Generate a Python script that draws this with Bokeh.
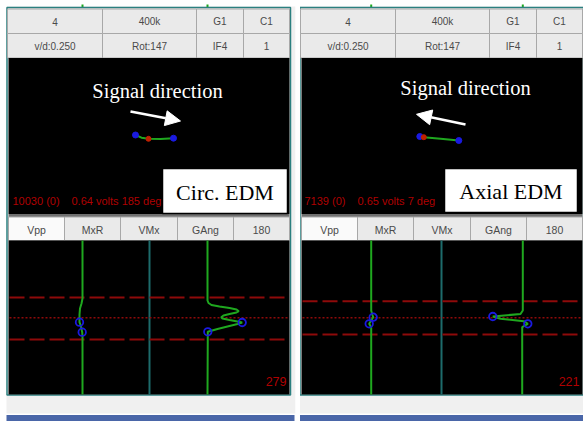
from bokeh.plotting import figure
from bokeh.models import Range1d, Arrow, NormalHead
from bokeh.embed import file_html
from bokeh.resources import INLINE
from bokeh.core.properties import value

# ---------------- data ----------------
SETTINGS_ROW1 = ["4", "400k", "G1", "C1"]
SETTINGS_ROW2 = ["v/d:0.250", "Rot:147", "IF4", "1"]
STRIP_TABS = ["Vpp", "MxR", "VMx", "GAng", "180"]
ANNOTATION = "Signal direction"
PANEL_LABELS = ["Circ. EDM", "Axial EDM"]
COUNTS = ["10030 (0)", "7139 (0)"]
READOUTS = ["0.64 volts 185 deg", "0.65 volts 7 deg"]
SAMPLE_NO = ["279", "221"]

# Lissajous (impedance plane) traces, screen units
CIRC_LISS_X = [135, 141, 148, 160, 173]
CIRC_LISS_Y = [134.5, 137.2, 138.3, 138.6, 137.7]
AXIAL_LISS_X = [419.3, 423.3, 440, 458.3]
AXIAL_LISS_Y = [136, 136.7, 138.2, 140]

# strip chart traces: sample position and deflection from channel baseline
CIRC_MXR_Y = [240, 298, 303, 308, 314, 321.7, 326, 331.7, 336, 394]
CIRC_MXR_DX = [0, 0, -1, -2.5, -3, -3, -1.5, -0.3, 0, 0]
CIRC_GANG_Y = [240, 300, 302.5, 304.5, 306, 307.5, 309, 310.7, 312, 313.5, 315, 316.7, 318, 319.5,
               321, 322, 323.5, 326, 328.5, 331.3, 394]
CIRC_GANG_DX = [0, 0, 1, 4, 12, 22, 29, 31.3, 29, 22, 16, 13.7, 15, 22, 30, 34.7, 30, 20, 10, 0.3, 0]
CIRC_MXR_MARK_Y, CIRC_MXR_MARK_DX = [321.7, 331.7], [-3, -0.3]
CIRC_GANG_MARK_Y, CIRC_GANG_MARK_DX = [322, 331.3], [34.7, 0.3]

AXIAL_MXR_Y = [240, 310, 314, 316.7, 320, 323.3, 327, 394]
AXIAL_MXR_DX = [0, 0, 1, 2, 0, -2, 0, 0]
AXIAL_GANG_Y = [240, 310, 313.5, 316, 318.3, 320.7, 323.3, 326.7, 394]
AXIAL_GANG_DX = [0, 0, -2.3, -30, -22.3, 1, 5, -0.6, -0.6]
AXIAL_MXR_MARK_Y, AXIAL_MXR_MARK_DX = [316.7, 323.3], [2, -2]
AXIAL_GANG_MARK_Y, AXIAL_GANG_MARK_DX = [316, 323.3], [-30, 5]

# ---------------- layout / style ----------------
TEAL = "#2b8080"
GREEN = "#1fa81f"
RED = "#b00000"
DASHRED = "#8e0a0a"
BLUE = "#1a1ae0"
CELL = "#eaeaea"
CELL_LINE = "#a8a8a8"
HDR_TXT = "#4a4a4a"
SANS = value("Liberation Sans")
SERIF = value("Liberation Serif")

p = figure(width=583, height=421, x_range=Range1d(0, 583), y_range=Range1d(421, 0),
           output_backend="svg", toolbar_location=None, min_border=0,
           x_axis_location=None, y_axis_location=None)
p.grid.visible = False
p.outline_line_color = None
p.background_fill_color = "white"
p.border_fill_color = "white"

PANEL_DX = [0, 293]
TOP_COLS = [7, 102, 196, 243, 289]
LOW_COLS = [8, 64, 120, 177, 233, 289]

panels = [
    dict(liss_x=CIRC_LISS_X, liss_y=CIRC_LISS_Y, red_idx=2, sig_x=157, sig_y=90,
         arrow=(130, 111, 180, 120.5), box=(162, 287, 168, 213), lab_x=224.5,
         dash_y=[297, 339], base=[82, 207], teal=149,
         traces=[(CIRC_MXR_Y, CIRC_MXR_DX, CIRC_MXR_MARK_Y, CIRC_MXR_MARK_DX),
                 (CIRC_GANG_Y, CIRC_GANG_DX, CIRC_GANG_MARK_Y, CIRC_GANG_MARK_DX)],
         cnt_x=12, rd_x=71),
    dict(liss_x=AXIAL_LISS_X, liss_y=AXIAL_LISS_Y, red_idx=1, sig_x=465, sig_y=87,
         arrow=(465, 124, 416, 113.8), box=(444, 577, 168, 212), lab_x=510.5,
         dash_y=[300.7, 334], base=[370.7, 522.3], teal=441,
         traces=[(AXIAL_MXR_Y, AXIAL_MXR_DX, AXIAL_MXR_MARK_Y, AXIAL_MXR_MARK_DX),
                 (AXIAL_GANG_Y, AXIAL_GANG_DX, AXIAL_GANG_MARK_Y, AXIAL_GANG_MARK_DX)],
         cnt_x=304, rd_x=357),
]

for k, (dx, pn) in enumerate(zip(PANEL_DX, panels)):
    # panel background and frame
    p.quad(left=[6 + dx], right=[295 + dx + (10 if k else 0)], top=[6], bottom=[413],
           fill_color="#f0f0f0", line_color=None)
    p.quad(left=[6 + dx], right=[294 + dx + (10 if k else 0)], top=[414.5], bottom=[421],
           fill_color="#4a66a8", line_color=None)
    # remnants of traces from the screen above
    p.segment(x0=[pn["base"][0], pn["base"][1]], y0=[4, 4], x1=[pn["base"][0], pn["base"][1]], y1=[7, 7],
              line_color=GREEN, line_width=2)
    p.quad(left=[6.5 + dx], right=[290 + dx], top=[7], bottom=[394.5],
           fill_color=None, line_color=TEAL, line_width=1.5)
    # settings table
    for r, (row, (y0, y1)) in enumerate(zip([SETTINGS_ROW1, SETTINGS_ROW2], [(8.5, 33), (33, 57.5)])):
        lefts = [c + dx for c in TOP_COLS[:-1]]
        rights = [c + dx for c in TOP_COLS[1:]]
        p.quad(left=lefts, right=rights, top=[y0] * 4, bottom=[y1] * 4,
               fill_color=CELL, line_color=CELL_LINE, line_width=1)
        p.text(x=[(a + b) / 2 for a, b in zip(lefts, rights)], y=[(y0 + y1) / 2 + 0.5] * 4, text=row,
               text_font=SANS, text_font_size="10px", text_color=HDR_TXT,
               text_align="center", text_baseline="middle")
    # impedance plane area
    p.quad(left=[8 + dx], right=[289 + dx], top=[57.5], bottom=[213.5], fill_color="black", line_color=None)
    p.quad(left=[8 + dx], right=[289 + dx], top=[213.5], bottom=[216.5], fill_color="#707070", line_color=None)
    p.text(x=[pn["sig_x"]], y=[pn["sig_y"]], text=[ANNOTATION], text_font=SERIF,
           text_font_size="20.5px", text_color="white", text_align="center", text_baseline="alphabetic")
    ax0, ay0, ax1, ay1 = pn["arrow"]
    p.add_layout(Arrow(x_start=ax0, y_start=ay0, x_end=ax1, y_end=ay1, line_color="white", line_width=2.5,
                       end=NormalHead(size=15, fill_color="white", line_color="white", line_width=1)))
    p.line(pn["liss_x"], pn["liss_y"], line_color=GREEN, line_width=2)
    p.scatter([pn["liss_x"][0], pn["liss_x"][-1]], [pn["liss_y"][0], pn["liss_y"][-1]],
              size=6, fill_color=BLUE, line_color=BLUE)
    p.scatter([pn["liss_x"][pn["red_idx"]]], [pn["liss_y"][pn["red_idx"]]], size=5,
              fill_color="#c02000", line_color="#c02000")
    bl, br, bt, bb = pn["box"]
    p.quad(left=[bl], right=[br], top=[bt], bottom=[bb], fill_color="white", line_color="black", line_width=1.5)
    p.text(x=[pn["lab_x"]], y=[(bt + bb) / 2 + 1], text=[PANEL_LABELS[k]], text_font=SERIF,
           text_font_size="22px", text_color="black", text_align="center", text_baseline="middle")
    p.text(x=[pn["cnt_x"], pn["rd_x"]], y=[200, 200], text=[COUNTS[k], READOUTS[k]], text_font=SANS,
           text_font_size="11px", text_color=RED, text_align="left", text_baseline="middle")
    # strip chart tabs
    lefts = [c + dx for c in LOW_COLS[:-1]]
    rights = [c + dx for c in LOW_COLS[1:]]
    p.quad(left=lefts, right=rights, top=[216.5] * 5, bottom=[240] * 5,
           fill_color=["#fafafa"] + [CELL] * 4, line_color=CELL_LINE, line_width=1)
    p.text(x=[(a + b) / 2 for a, b in zip(lefts, rights)], y=[229] * 5, text=STRIP_TABS,
           text_font=SANS, text_font_size="10.5px", text_color=HDR_TXT,
           text_align="center", text_baseline="middle")
    # strip chart area
    p.quad(left=[8 + dx], right=[289 + dx], top=[240], bottom=[394], fill_color="black", line_color=None)
    p.segment(x0=[pn["teal"]], y0=[240], x1=[pn["teal"]], y1=[394], line_color="#1d6b6b", line_width=2)
    for yy in pn["dash_y"]:
        p.segment(x0=[9 + dx], y0=[yy], x1=[288 + dx], y1=[yy], line_color=DASHRED, line_width=2,
                  line_dash="15 5")
    p.segment(x0=[9 + dx], y0=[317.3], x1=[288 + dx], y1=[317.3], line_color=DASHRED, line_width=1.5,
              line_dash="2 2")
    for base, (ty, tdx, my, mdx) in zip(pn["base"], pn["traces"]):
        p.line([base + d for d in tdx], ty, line_color=GREEN, line_width=2)
        p.scatter([base + d for d in mdx], my, size=7.5, fill_color=None, line_color=BLUE, line_width=1.8)
    p.text(x=[286 + dx], y=[381], text=[SAMPLE_NO[k]], text_font=SANS, text_font_size="12.5px",
           text_color=RED, text_align="right", text_baseline="middle")

# white gap between the two screen captures
p.quad(left=[295], right=[299.5], top=[0], bottom=[421], fill_color="white", line_color=None)

open("out.html", "w").write(file_html(p, INLINE))
